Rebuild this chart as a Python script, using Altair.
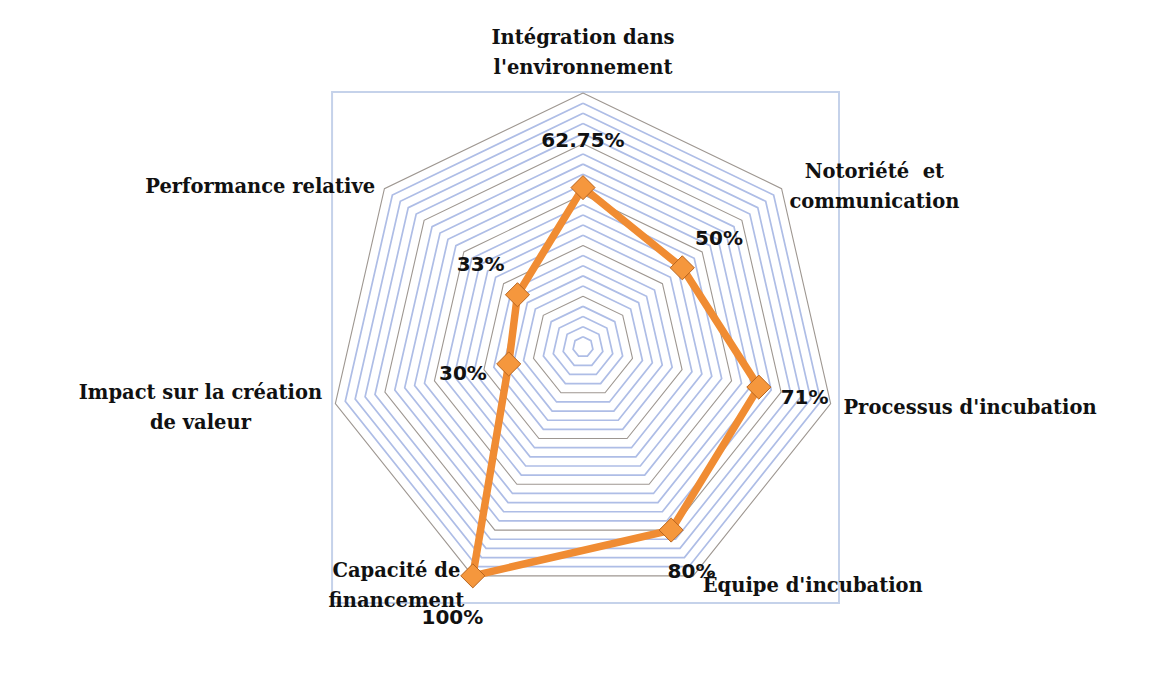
import math
import altair as alt
import pandas as pd

# ---------------- data ----------------
categories = [
    "Intégration dans\nl'environnement",
    "Notoriété\u00a0 et\ncommunication",
    "Processus d'incubation",
    "Équipe d'incubation",
    "Capacité de\nfinancement",
    "Impact sur la création\nde valeur",
    "Performance relative",
]
values = [0.6275, 0.50, 0.71, 0.80, 1.00, 0.30, 0.33]
value_labels = ["62.75%", "50%", "71%", "80%", "100%", "30%", "33%"]
grid_step = 0.04          # minor gridline interval
grid_major = 0.20         # major gridline interval
grid_max = 1.0

# ---------------- layout ----------------
W, H = 1157, 679
CX, CY = 583, 347          # centre of the radar in page pixels
R_PX = 254                 # pixels per unit radius
N = len(categories)
FS_CAT = 19.5
LH_CAT = 30
FS_VAL = 20

x_dom = [-CX / R_PX, (W - CX) / R_PX]
y_dom = [-(H - CY) / R_PX, CY / R_PX]
xs = alt.Scale(domain=x_dom, nice=False, zero=False)
ys = alt.Scale(domain=y_dom, nice=False, zero=False)
X = lambda f: alt.X(f, type="quantitative", scale=xs, axis=None)
Y = lambda f: alt.Y(f, type="quantitative", scale=ys, axis=None)

# series table
rows = []
for i, (c, v, l) in enumerate(zip(categories, values, value_labels)):
    rows.append({"idx": i, "ord": i, "cat": c, "value": v, "label": l})
rows.append(dict(rows[0], ord=N))  # close polygon
series = pd.DataFrame(rows)

# grid table
n_levels = int(round(grid_max / grid_step))
grid_rows = []
for j in range(1, n_levels + 1):
    lev = round(j * grid_step, 4)
    major = abs(lev / grid_major - round(lev / grid_major)) < 1e-6
    for k in range(N + 1):
        grid_rows.append({"level": lev, "k": k % N, "ord": k, "major": "major" if major else "minor"})
grid = pd.DataFrame(grid_rows)

angle = f"2*PI*datum.idx/{N}"

# estimated text width for label placement
def est_width(s):
    w = 0.0
    for ch in s:
        if ch in "mwMW":
            w += 1.0
        elif ch in "iljtfr' .\u00a0":
            w += 0.42
        elif ch.isupper():
            w += 0.76
        else:
            w += 0.68
    return w * FS_CAT

GAP = 8 / R_PX
cat_rows = []
for i, c in enumerate(categories):
    th = 2 * math.pi * i / N
    s, co = math.sin(th), math.cos(th)
    lines = c.split("\n")
    n_l = len(lines)
    w = max(est_width(l) for l in lines) / R_PX
    h = n_l * LH_CAT / R_PX
    if abs(s) < 0.2:
        lx, cy = grid_max * s, grid_max * co + h / 2 + 10 / R_PX
    else:
        lx = grid_max * s + math.copysign(GAP + w / 2, s)
        cy = grid_max * co - (3 - 8 * co) / R_PX
    # text is anchored on its first line: shift so the block is centred
    ly = cy + (n_l - 1) * LH_CAT / 2 / R_PX
    cat_rows.append({"cat": c, "lx": lx, "ly": ly})
cat_df = pd.DataFrame(cat_rows)

# frame around plot area (bbox of outer ring with padding)
sins = [math.sin(2 * math.pi * k / N) for k in range(N)]
coss = [math.cos(2 * math.pi * k / N) for k in range(N)]
frame = pd.DataFrame([{
    "x0": min(sins) * grid_max - 0.013, "x1": max(sins) * grid_max + 0.033,
    "y0": min(coss) * grid_max - 0.107, "y1": max(coss) * grid_max + 0.004,
}])

frame_layer = alt.Chart(frame).mark_rect(
    fill=None, stroke="#c5d2ea", strokeWidth=2
).encode(x=X("x0"), x2="x1", y=Y("y0"), y2="y1")

grid_base = alt.Chart(grid).transform_calculate(
    gx=f"datum.level*sin(2*PI*datum.k/{N})",
    gy=f"datum.level*cos(2*PI*datum.k/{N})",
)
grid_minor = grid_base.transform_filter("datum.major == 'minor'").mark_line(
    stroke="#aebde6", strokeWidth=1.7
).encode(x=X("gx"), y=Y("gy"), detail="level:N", order="ord:Q")
grid_maj = grid_base.transform_filter("datum.major == 'major'").mark_line(
    stroke="#9e9791", strokeWidth=1.1
).encode(x=X("gx"), y=Y("gy"), detail="level:N", order="ord:Q")

cat_layer = alt.Chart(cat_df).mark_text(
    font="DejaVu Serif", fontWeight="bold", fontSize=FS_CAT, color="#111111",
    align="center", baseline="middle", lineBreak="\n", lineHeight=LH_CAT
).encode(x=X("lx"), y=Y("ly"), text="cat:N")

sbase = alt.Chart(series).transform_calculate(
    px=f"datum.value*sin({angle})",
    py=f"datum.value*cos({angle})",
    tx=f"(datum.value+0.185)*sin({angle})",
    ty=f"(datum.value+0.185)*cos({angle})",
)
line = sbase.mark_line(color="#f08c33", strokeWidth=7.5, strokeJoin="miter").encode(
    x=X("px"), y=Y("py"), order="ord:Q"
)
pts = sbase.transform_filter(f"datum.ord < {N}").mark_point(
    shape="diamond", filled=True, size=580, fill="#f5973d", stroke="#b8651f",
    strokeWidth=1, opacity=1
).encode(x=X("px"), y=Y("py"))
vlabels = sbase.transform_filter(f"datum.ord < {N}").mark_text(
    font="DejaVu Sans", fontWeight="bold", fontSize=FS_VAL, color="#111111",
    align="center", baseline="middle"
).encode(x=X("tx"), y=Y("ty"), text="label:N")

chart = alt.layer(
    frame_layer, grid_minor, grid_maj, cat_layer, line, pts, vlabels
).properties(
    width=W, height=H, autosize=alt.AutoSizeParams(type="none"),
    padding=0, background="white"
).configure_view(strokeWidth=0)

chart.save("out.html", embed_options={"renderer": "svg", "actions": False})
